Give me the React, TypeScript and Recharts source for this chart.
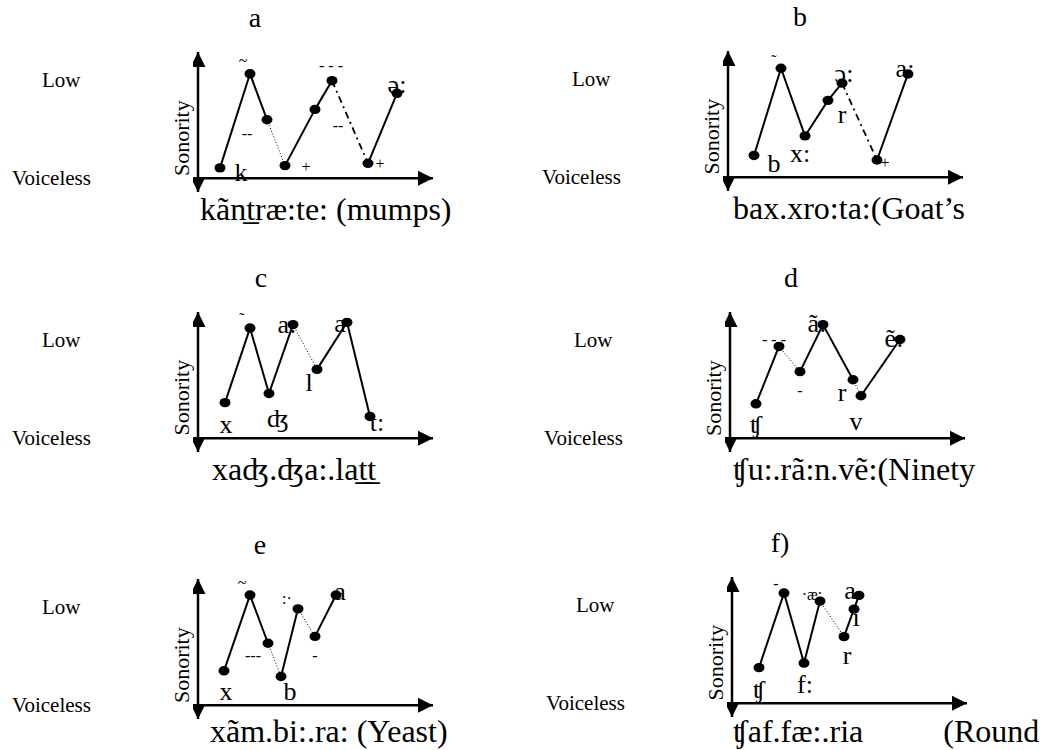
import { ComposedChart, Line, XAxis, YAxis, ReferenceLine, ReferenceDot } from 'recharts';

const SERIF = "'Liberation Serif', 'Times New Roman', serif";

// x = place of the segment along the word, y = sonority step
const ptsA = [
  { x: 2.2, y: 0.9 }, { x: 5.2, y: 9.1 }, { x: 6.9, y: 5.1 }, { x: 8.7, y: 1.1 },
  { x: 11.7, y: 6.0 }, { x: 13.4, y: 8.5 }, { x: 17.0, y: 1.3 }, { x: 19.9, y: 7.4 },
];
const ptsB = [
  { x: 2.6, y: 1.9 }, { x: 5.3, y: 9.5 }, { x: 7.7, y: 3.6 }, { x: 10.0, y: 6.7 },
  { x: 11.4, y: 8.2 }, { x: 14.9, y: 1.5 }, { x: 18.0, y: 9.0 },
];
const ptsC = [
  { x: 2.7, y: 3.1 }, { x: 5.2, y: 9.6 }, { x: 7.1, y: 3.9 }, { x: 9.5, y: 9.9 },
  { x: 11.9, y: 6.0 }, { x: 14.9, y: 10.1 }, { x: 17.2, y: 1.9 },
];
const ptsD = [
  { x: 2.6, y: 3.0 }, { x: 4.9, y: 8.0 }, { x: 7.0, y: 5.8 }, { x: 9.3, y: 9.9 },
  { x: 12.3, y: 5.1 }, { x: 13.1, y: 3.7 }, { x: 17.0, y: 8.6 },
];
const ptsE = [
  { x: 2.6, y: 3.0 }, { x: 5.2, y: 9.6 }, { x: 7.0, y: 5.4 }, { x: 8.3, y: 2.5 },
  { x: 10.0, y: 8.4 }, { x: 11.7, y: 6.0 }, { x: 13.8, y: 9.6 },
];
const ptsF = [
  { x: 2.7, y: 3.1 }, { x: 5.2, y: 9.6 }, { x: 7.2, y: 3.5 }, { x: 8.8, y: 8.9 },
  { x: 11.2, y: 5.8 }, { x: 12.2, y: 8.2 }, { x: 12.7, y: 9.4 },
];

// how each point joins the next one
const linksA = ['solid', 'solid', 'dot', 'solid', 'solid', 'dashdot', 'solid'];
const linksB = ['solid', 'solid', 'solid', 'solid', 'dashdot', 'solid'];
const linksC = ['solid', 'solid', 'solid', 'dot', 'solid', 'solid'];
const linksD = ['solid', 'dot', 'solid', 'solid', 'dot', 'solid'];
const linksE = ['solid', 'solid', 'dot', 'solid', 'dot', 'solid'];
const linksF = ['solid', 'solid', 'solid', 'dot', 'solid', 'solid'];

// phone labels (what is left of them in the scan)
const labelsA = [
  { x: 4.5, y: 10.3, t: '~' }, { x: 4.9, y: 3.9, t: '--' }, { x: 4.3, y: 0.5, t: 'k' },
  { x: 10.8, y: 1.0, t: '+' }, { x: 13.3, y: 9.8, t: '- - -' }, { x: 14.0, y: 4.6, t: '--' },
  { x: 18.2, y: 1.3, t: '+' }, { x: 19.9, y: 8.2, t: 'ə:' },
];
const labelsB = [
  { x: 4.6, y: 10.2, t: '˜' }, { x: 4.6, y: 1.2, t: 'b' }, { x: 7.2, y: 2.1, t: 'x:' },
  { x: 11.6, y: 9.0, t: 'ɔ:' }, { x: 11.4, y: 5.5, t: 'r' }, { x: 15.7, y: 1.3, t: '+' },
  { x: 17.7, y: 9.5, t: 'a:' },
];
const labelsC = [
  { x: 4.4, y: 10.4, t: '˜' }, { x: 8.9, y: 9.9, t: 'a:' }, { x: 14.2, y: 10.0, t: 'a' },
  { x: 2.8, y: 1.2, t: 'x' }, { x: 8.0, y: 1.7, t: 'ʤ' }, { x: 11.1, y: 4.9, t: 'l' },
  { x: 17.9, y: 1.4, t: 't:' },
];
const labelsD = [
  { x: 4.4, y: 8.6, t: '- - -' }, { x: 8.7, y: 10.0, t: 'ã:' }, { x: 16.4, y: 8.7, t: 'ẽ:' },
  { x: 7.0, y: 4.2, t: '-' }, { x: 11.2, y: 4.0, t: 'r' }, { x: 12.6, y: 1.5, t: 'v' },
  { x: 2.6, y: 1.2, t: 'ʧ' },
];
const labelsE = [
  { x: 4.4, y: 10.7, t: '~' }, { x: 5.5, y: 4.3, t: '---' }, { x: 8.9, y: 9.3, t: ':·' },
  { x: 14.2, y: 9.9, t: 'a' }, { x: 2.8, y: 1.2, t: 'x' }, { x: 9.2, y: 1.2, t: 'b' },
  { x: 11.7, y: 4.35, t: '-' },
];
const labelsF = [
  { x: 4.4, y: 10.4, t: '-' }, { x: 8.0, y: 9.45, t: '·æ:' }, { x: 11.8, y: 9.8, t: 'a' },
  { x: 12.4, y: 7.45, t: 'ı' }, { x: 11.5, y: 4.15, t: 'r' }, { x: 7.3, y: 1.6, t: 'f:' },
  { x: 2.7, y: 1.2, t: 'ʧ' },
];

const titles = ['a', 'b', 'c', 'd', 'e', 'f)'];
const captions = [
  'kãnt̲ræ:te: (mumps)',
  'bax.xro:ta:(Goat’s',
  'xaʤ.ʤa:.lat̲t̲',
  'ʧu:.rã:n.vẽ:(Ninety',
  'xãm.bi:.ra: (Yeast)',
  'ʧaf.fæ:.ria          (Round',
];
const sonorityTicks = [1, 2, 3, 4, 5, 6, 7, 8, 9];

const panels = [
  { pts: ptsA, links: linksA, labels: labelsA },
  { pts: ptsB, links: linksB, labels: labelsB },
  { pts: ptsC, links: linksC, labels: labelsC },
  { pts: ptsD, links: linksD, labels: labelsD },
  { pts: ptsE, links: linksE, labels: labelsE },
  { pts: ptsF, links: linksF, labels: labelsF },
];

// where each little chart sits on the page
const layout = [
  { left: 193, top: 47, titleDx: 57, capDx: 2, capDy: 42 },
  { left: 723, top: 45.5, titleDx: 72, capDx: 5, capDy: 42 },
  { left: 193, top: 306.5, titleDx: 63, capDx: 14, capDy: 42 },
  { left: 725, top: 307, titleDx: 61, capDx: 3, capDy: 42 },
  { left: 193, top: 574, titleDx: 62, capDx: 12, capDy: 37 },
  { left: 727, top: 571.5, titleDx: 48, capDx: 1, capDy: 39 },
];

const W = 250;
const H = 150;
const M = { top: 5, right: 10, bottom: 5, left: 5 };
const X_MAX = 23.5;
const Y_MIN = -1.2;
const Y_MAX = 11;

const lineStyle = {
  solid: { w: 2, dash: undefined },
  dot: { w: 1, dash: '1 2' },
  dashdot: { w: 1.8, dash: '7 4 2 4' },
};

const blob = (p: any) => (
  <ellipse key={`b${p.index}`} cx={p.cx} cy={p.cy} rx={5.5} ry={4.7} fill="#000" />
);

const phone = (p: any) => {
  const t = p.payload.t;
  const small = /[-~˜+·]/.test(t);
  return (
    <text key={`t${p.index}`} x={p.cx} y={p.cy} textAnchor="middle" dominantBaseline="central"
      style={{ fontFamily: SERIF }} fontSize={small ? 16 : 26} fill="#000">{t}</text>
  );
};

const upHead = (p: any) => (
  <polygon points={`${p.cx},${p.cy} ${p.cx - 7.5},${p.cy + 15} ${p.cx + 7.5},${p.cy + 15}`} fill="#000" />
);
const downHead = (p: any) => (
  <polygon points={`${p.cx},${p.cy} ${p.cx - 7.5},${p.cy - 15} ${p.cx + 7.5},${p.cy - 15}`} fill="#000" />
);
const rightHead = (p: any) => (
  <polygon points={`${p.cx},${p.cy} ${p.cx - 15},${p.cy - 7.5} ${p.cx - 15},${p.cy + 7.5}`} fill="#000" />
);

function Panel({ p, box }: any) {
  const segs = p.pts.slice(1).map((pt: any, i: number) => ({ data: [p.pts[i], pt], kind: p.links[i] }));
  return (
    <div style={{ position: 'absolute', left: box.left, top: box.top }}>
      <ComposedChart width={W} height={H} margin={M}>
        <XAxis type="number" dataKey="x" domain={[0, X_MAX]} hide allowDataOverflow />
        <YAxis type="number" dataKey="y" domain={[Y_MIN, Y_MAX]} ticks={sonorityTicks} interval={0}
          mirror width={10} tick={false} tickSize={13}
          tickLine={{ stroke: '#000', strokeWidth: 2 }}
          axisLine={{ stroke: '#000', strokeWidth: 2.5 }} allowDataOverflow />
        <ReferenceLine y={0} stroke="#000" strokeWidth={2.5} />
        {segs.map((s: any, i: number) => (
          <Line key={i} data={s.data} dataKey="y" type="linear" stroke="#000"
            strokeWidth={lineStyle[s.kind].w} strokeDasharray={lineStyle[s.kind].dash}
            dot={false} activeDot={false} isAnimationActive={false} />
        ))}
        <Line data={p.pts} dataKey="y" stroke="none" dot={blob} activeDot={false} isAnimationActive={false} />
        <Line data={p.labels} dataKey="y" stroke="none" dot={phone} activeDot={false} isAnimationActive={false} />
        <ReferenceDot x={0} y={Y_MAX} shape={upHead} ifOverflow="visible" />
        <ReferenceDot x={0} y={Y_MIN} shape={downHead} ifOverflow="visible" />
        <ReferenceDot x={X_MAX} y={0} shape={rightHead} ifOverflow="visible" />
      </ComposedChart>
    </div>
  );
}

export default function App() {
  return (
    <div style={{ position: 'absolute', left: 0, top: 0, width: 1042, height: 750, background: '#fff', overflow: 'hidden' }}>
      {panels.map((p, i) => <Panel key={i} p={p} box={layout[i]} />)}
      <svg width={1042} height={750} style={{ position: 'absolute', left: 0, top: 0, pointerEvents: 'none', fontFamily: SERIF }}
        fill="#000">
        {layout.map((b, i) => {
          const ox = b.left + M.left;
          const oy = b.top + 131.2;
          return (
            <g key={i}>
              <text x={ox + b.titleDx} y={oy - 151} fontSize={28} textAnchor="middle">{titles[i]}</text>
              <text x={ox - 156} y={oy - 91} fontSize={21}>Low</text>
              <text x={ox - 186} y={oy + 7} fontSize={21}>Voiceless</text>
              <text x={ox - 16} y={oy - 40} fontSize={22} textAnchor="middle" dominantBaseline="central"
                transform={`rotate(-90 ${ox - 16} ${oy - 40})`}>Sonority</text>
              <text x={ox + b.capDx} y={oy + b.capDy} fontSize={32} style={{ whiteSpace: 'pre' }}>{captions[i]}</text>
            </g>
          );
        })}
      </svg>
    </div>
  );
}
